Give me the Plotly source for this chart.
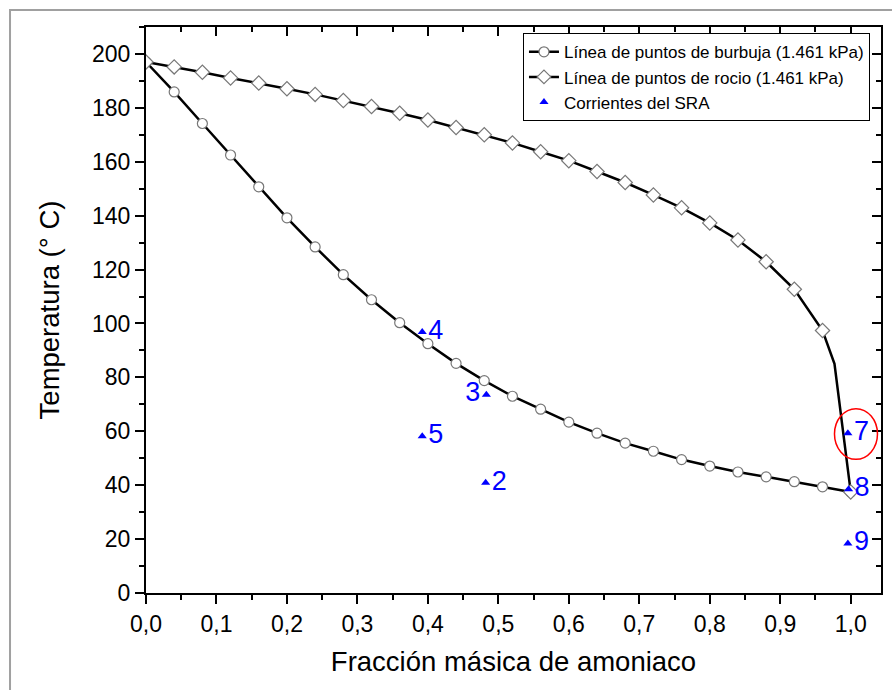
import plotly.graph_objects as go

# Bubble point line (circles)
bub_x = [0.00, 0.04, 0.08, 0.12, 0.16, 0.20, 0.24, 0.28, 0.32, 0.36, 0.40, 0.44, 0.48,
         0.52, 0.56, 0.60, 0.64, 0.68, 0.72, 0.76, 0.80, 0.84, 0.88, 0.92, 0.96, 1.00]
bub_t = [197.0, 185.9, 174.2, 162.5, 150.7, 139.2, 128.4, 118.1, 108.8, 100.3, 92.5, 85.2, 78.8,
         73.0, 68.2, 63.4, 59.3, 55.6, 52.6, 49.5, 47.1, 44.9, 43.1, 41.3, 39.4, 37.5]

# Dew point line (diamonds)
dew_x = [0.00, 0.04, 0.08, 0.12, 0.16, 0.20, 0.24, 0.28, 0.32, 0.36, 0.40, 0.44, 0.48,
         0.52, 0.56, 0.60, 0.64, 0.68, 0.72, 0.76, 0.80, 0.84, 0.88, 0.92, 0.96, 0.977, 1.00]
dew_t = [197.0, 195.2, 193.2, 191.1, 189.2, 187.1, 185.0, 182.7, 180.5, 178.0, 175.5, 172.7, 170.0,
         167.0, 163.7, 160.4, 156.4, 152.3, 147.7, 142.9, 137.3, 131.0, 122.9, 112.7, 97.4, 85.0, 37.5]
dew_marker_on = [1] * 25 + [0, 1]

# SRA streams
sra_x = [0.482, 0.483, 0.392, 0.392, 0.996, 0.997, 0.996]
sra_t = [40.9, 73.6, 96.8, 58.2, 59.3, 38.5, 18.4]
sra_lbl = ["2", "3", "4", "5", "7", "8", "9"]
sra_pos = ["middle right", "middle left", "middle right", "middle right",
           "middle right", "middle right", "middle right"]

x_range = [0.0, 1.043]
y_range = [0, 210]

FONT = "Arial"

fig = go.Figure()
fig.add_trace(go.Scatter(
    x=bub_x, y=bub_t, mode="lines+markers",
    name="Línea de puntos de burbuja (1.461 kPa)",
    line=dict(color="black", width=2.5),
    marker=dict(symbol="circle", size=10, color="white", opacity=1,
                line=dict(color="#777777", width=1.2)),
))
fig.add_trace(go.Scatter(
    x=dew_x, y=dew_t, mode="lines+markers",
    name="Línea de puntos de rocio (1.461 kPa)",
    line=dict(color="black", width=2.5),
    marker=dict(symbol="diamond", size=[11 if m else 0 for m in dew_marker_on],
                color="white", opacity=1, line=dict(color="#777777", width=1.2)),
))
fig.add_trace(go.Scatter(
    x=sra_x, y=sra_t, mode="markers+text",
    name="Corrientes del SRA",
    text=sra_lbl, textposition=sra_pos,
    textfont=dict(family=FONT, size=27, color="#0000ff"),
    marker=dict(symbol="triangle-up", size=8, color="#0000ff"),
))
# dummy trace for mirrored (inside-tick) axes
fig.add_trace(go.Scatter(x=[None], y=[None], xaxis="x2", yaxis="y2",
                         showlegend=False, hoverinfo="skip"))

# red ellipse around stream 7
fig.add_shape(type="circle", xref="x", yref="y",
              x0=0.977, x1=1.038, y0=49.6, y1=68.4,
              line=dict(color="red", width=1.5))
# outer gray frame
fig.add_shape(type="rect", xref="paper", yref="paper",
              x0=-0.185, x1=1.2, y0=-0.4, y1=1.030,
              line=dict(color="#a0a0a0", width=2), layer="below")

axis_common = dict(showline=True, linecolor="black", linewidth=2, showgrid=False,
                   zeroline=False, tickcolor="black", tickwidth=2)

fig.update_layout(
    width=892, height=690,
    margin=dict(l=146, r=11, t=27, b=97),
    paper_bgcolor="white", plot_bgcolor="white",
    separators=",.",
    font=dict(family=FONT, color="black"),
    showlegend=True,
    legend=dict(x=0.985, y=0.989, xanchor="right", yanchor="top",
                bordercolor="black", borderwidth=1, bgcolor="white",
                font=dict(family=FONT, size=17, color="black"),
                tracegroupgap=0, itemwidth=30),
    xaxis=dict(range=x_range, tickmode="linear", tick0=0, dtick=0.1, tickformat=".1f",
               ticks="outside", ticklen=9,
               minor=dict(ticks="outside", dtick=0.05, ticklen=5, tickcolor="black", tickwidth=2),
               tickfont=dict(family=FONT, size=23),
               title=dict(text="Fracción másica de amoniaco", font=dict(family=FONT, size=27.5), standoff=16),
               **axis_common),
    yaxis=dict(range=y_range, tickmode="linear", tick0=0, dtick=20,
               ticks="outside", ticklen=9,
               minor=dict(ticks="outside", dtick=10, ticklen=5, tickcolor="black", tickwidth=2),
               tickfont=dict(family=FONT, size=23),
               title=dict(text="Temperatura (° C)", font=dict(family=FONT, size=27.5), standoff=24),
               **axis_common),
    xaxis2=dict(range=x_range, overlaying="x", side="top", anchor="y2", tickmode="linear",
                tick0=0, dtick=0.1, ticks="inside", ticklen=9, showticklabels=False,
                minor=dict(ticks="inside", dtick=0.05, ticklen=5, tickcolor="black", tickwidth=2),
                **axis_common),
    yaxis2=dict(range=y_range, overlaying="y", side="right", anchor="x2", tickmode="linear",
                tick0=0, dtick=20, ticks="inside", ticklen=9, showticklabels=False,
                minor=dict(ticks="inside", dtick=10, ticklen=5, tickcolor="black", tickwidth=2),
                **axis_common),
)

fig.write_html("out.html")
